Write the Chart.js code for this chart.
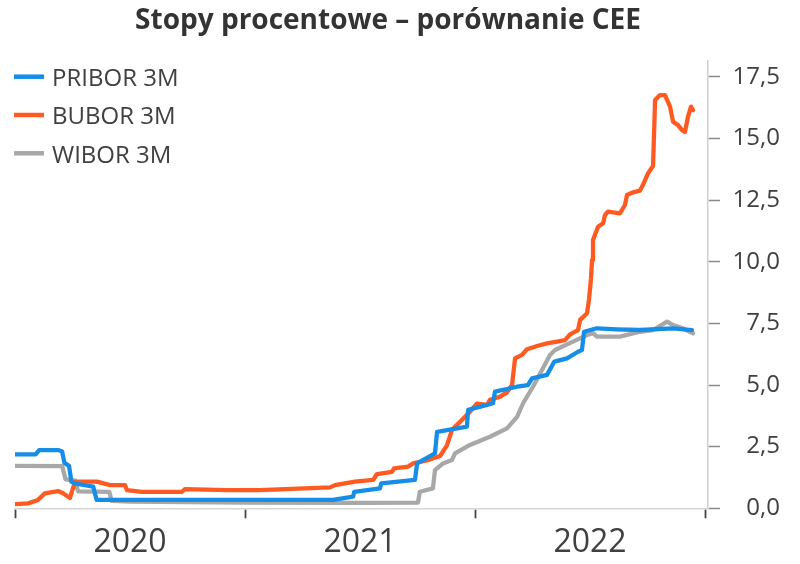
<!DOCTYPE html>
<html><head><meta charset="utf-8">
<script src="https://cdn.jsdelivr.net/npm/chart.js@4.4.1/dist/chart.umd.min.js"></script>
<style>html,body{margin:0;padding:0;background:#fff}#wrap{width:800px;height:564px}</style>
</head><body><div id="wrap"><canvas id="c" width="800" height="564"></canvas></div>
<script>
const chartTitle = 'Stopy procentowe \u2013 por\u00f3wnanie CEE';
const seriesNames = ['PRIBOR 3M', 'BUBOR 3M', 'WIBOR 3M'];

const xTickValues = [2020, 2020.5, 2021, 2021.5, 2022, 2022.5, 2023];
const xTickLabels = ['', '2020', '', '2021', '', '2022', ''];
const yTickValues = [0, 2.5, 5, 7.5, 10, 12.5, 15, 17.5];

const priborYears = [2020.0, 2020.09, 2020.105, 2020.19, 2020.205, 2020.215, 2020.235, 2020.245, 2020.26, 2020.34,
  2020.355, 2020.7, 2021.0, 2021.383, 2021.47, 2021.475, 2021.587, 2021.592, 2021.739, 2021.748,
  2021.826, 2021.835, 2021.922, 2021.965, 2021.97, 2022.052, 2022.078, 2022.087, 2022.183, 2022.23,
  2022.248, 2022.313, 2022.345, 2022.4, 2022.448, 2022.465, 2022.474, 2022.53, 2022.617, 2022.717,
  2022.861, 2022.943];
const priborValues = [2.19, 2.19, 2.36, 2.36, 2.30, 1.84, 1.72, 1.08, 1.01, 0.88,
  0.34, 0.34, 0.34, 0.34, 0.47, 0.67, 0.81, 1.01, 1.15, 1.82,
  2.23, 3.10, 3.24, 3.31, 3.99, 4.19, 4.26, 4.73, 4.93, 5.00,
  5.27, 5.41, 5.95, 6.08, 6.35, 6.42, 7.16, 7.30, 7.26, 7.23,
  7.30, 7.23];

const buborYears = [2020.0, 2020.057, 2020.1, 2020.13, 2020.187, 2020.209, 2020.239, 2020.261, 2020.357, 2020.413,
  2020.478, 2020.487, 2020.552, 2020.726, 2020.739, 2020.922, 2021.065, 2021.37, 2021.391, 2021.478,
  2021.557, 2021.574, 2021.639, 2021.648, 2021.709, 2021.73, 2021.791, 2021.848, 2021.878, 2021.9,
  2021.943, 2021.978, 2022.009, 2022.052, 2022.065, 2022.109, 2022.139, 2022.161, 2022.174, 2022.204,
  2022.226, 2022.27, 2022.313, 2022.357, 2022.391, 2022.413, 2022.448, 2022.457, 2022.487, 2022.496,
  2022.504, 2022.509, 2022.513, 2022.535, 2022.557, 2022.565, 2022.578, 2022.63, 2022.652, 2022.661,
  2022.683, 2022.717, 2022.73, 2022.752, 2022.774, 2022.783, 2022.804, 2022.826, 2022.848, 2022.861,
  2022.883, 2022.9, 2022.913, 2022.926, 2022.939, 2022.948];
const buborValues = [0.17, 0.20, 0.34, 0.61, 0.70, 0.61, 0.42, 1.08, 1.08, 0.94,
  0.94, 0.74, 0.67, 0.67, 0.78, 0.74, 0.74, 0.85, 0.94, 1.08,
  1.15, 1.39, 1.48, 1.62, 1.69, 1.82, 1.94, 2.12, 2.55, 3.18,
  3.58, 3.92, 4.25, 4.19, 4.40, 4.53, 4.70, 5.00, 6.08, 6.22,
  6.45, 6.58, 6.69, 6.76, 6.82, 7.05, 7.23, 7.64, 7.91, 8.50,
  9.30, 10.07, 10.88, 11.42, 11.56, 11.89, 12.03, 11.96, 12.30, 12.71,
  12.80, 12.88, 13.11, 13.58, 13.88, 16.56, 16.76, 16.76, 16.29, 15.68,
  15.54, 15.34, 15.27, 15.88, 16.29, 16.15];

const wiborYears = [2020.0, 2020.205, 2020.22, 2020.262, 2020.274, 2020.41, 2020.42, 2020.5, 2021.0, 2021.5,
  2021.752, 2021.76, 2021.817, 2021.826, 2021.861, 2021.9, 2021.913, 2021.978, 2022.065, 2022.139,
  2022.183, 2022.209, 2022.252, 2022.283, 2022.326, 2022.348, 2022.426, 2022.487, 2022.513, 2022.53,
  2022.63, 2022.717, 2022.774, 2022.835, 2022.861, 2022.904, 2022.948];
const wiborValues = [1.72, 1.71, 1.17, 1.12, 0.69, 0.67, 0.30, 0.27, 0.23, 0.22,
  0.23, 0.67, 0.81, 1.55, 1.82, 1.96, 2.23, 2.57, 2.90, 3.24,
  3.71, 4.26, 4.93, 5.47, 6.22, 6.42, 6.76, 7.03, 7.10, 6.96,
  6.96, 7.16, 7.23, 7.57, 7.43, 7.30, 7.10];

const seriesColors = ['#168ee8', '#ff5a22', '#a8a8a8'];

function pts(xs, ys) { return xs.map((x, i) => ({ x: x, y: ys[i] })); }

const FONT = '"Open Sans", "Liberation Sans", sans-serif';
const TEXT = '#404040';

const insideLegend = {
  id: 'insideLegend',
  afterDraw(chart) {
    const ctx = chart.ctx;
    ctx.save();
    chart.data.datasets.forEach((ds, i) => {
      const y = 76.7 + i * 38.3;
      ctx.strokeStyle = ds.borderColor;
      ctx.lineWidth = 4.5;
      ctx.lineCap = 'butt';
      ctx.beginPath(); ctx.moveTo(14, y); ctx.lineTo(44, y); ctx.stroke();
      ctx.fillStyle = TEXT;
      ctx.font = '24px ' + FONT;
      ctx.textBaseline = 'alphabetic';
      ctx.textAlign = 'left';
      ctx.fillText(ds.label, 52, y + 9.3);
    });
    ctx.restore();
  }
};

const titleShift = {
  id: 'titleShift',
  afterLayout(chart) {
    const t = chart.titleBlock;
    if (t) { t.left = 0; t.right = 776; t.width = 776; }
  }
};

new Chart(document.getElementById('c'), {
  type: 'line',
  data: {
    datasets: [
      { label: seriesNames[0], data: pts(priborYears, priborValues), borderColor: seriesColors[0] },
      { label: seriesNames[1], data: pts(buborYears, buborValues), borderColor: seriesColors[1] },
      { label: seriesNames[2], data: pts(wiborYears, wiborValues), borderColor: seriesColors[2] }
    ]
  },
  options: {
    responsive: false,
    animation: false,
    devicePixelRatio: 1,
    parsing: false,
    elements: {
      line: { borderWidth: 4.3, tension: 0, borderJoinStyle: 'round', borderCapStyle: 'round', fill: false },
      point: { radius: 0, hoverRadius: 0 }
    },
    layout: { padding: { left: 15, right: 20, top: 0, bottom: 4 } },
    plugins: {
      legend: { display: false },
      tooltip: { enabled: false },
      title: {
        display: true, text: chartTitle, color: '#333333',
        font: { family: FONT, size: 28, weight: 'bold' },
        padding: { top: 4, bottom: 23.4 }
      }
    },
    scales: {
      x: {
        type: 'linear', min: 2020, max: 2023.013,
        afterBuildTicks: (axis) => { axis.ticks = xTickValues.map(v => ({ value: v })); },
        afterFit: (axis) => { axis.height = 51.7; },
        ticks: {
          autoSkip: false, maxRotation: 0, padding: 5.5, color: TEXT,
          font: { family: FONT, size: 32 },
          callback: (v, i) => xTickLabels[i]
        },
        grid: {
          drawOnChartArea: false, drawTicks: true, tickLength: 10, tickWidth: 1.8,
          tickColor: (ctx) => (ctx.tick && Number.isInteger(ctx.tick.value)) ? '#444444' : 'rgba(0,0,0,0)'
        },
        border: { display: true, color: '#d6d6d6', width: 1.5 }
      },
      y: {
        type: 'linear', position: 'right', min: 0, max: 18.14,
        afterBuildTicks: (axis) => { axis.ticks = yTickValues.map(v => ({ value: v })); },
        afterFit: (axis) => { axis.width = 72; },
        ticks: {
          padding: 12, color: TEXT, crossAlign: 'far',
          font: { family: FONT, size: 24 },
          callback: (v) => Number(v).toFixed(1).replace('.', ',')
        },
        grid: { drawOnChartArea: false, drawTicks: true, tickLength: 12, tickWidth: 1.5, tickColor: '#8a8a8a' },
        border: { display: true, color: '#cfcfcf', width: 1.5 }
      }
    }
  },
  plugins: [insideLegend, titleShift]
});
</script>
</body></html>
